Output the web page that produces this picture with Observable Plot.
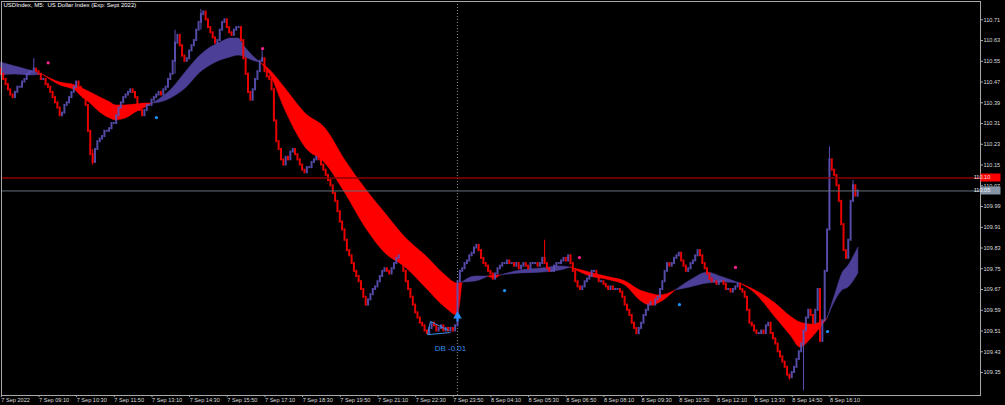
<!DOCTYPE html>
<html><head><meta charset="utf-8">
<script src="https://cdn.jsdelivr.net/npm/d3@7"></script>
<script src="https://cdn.jsdelivr.net/npm/@observablehq/plot@0.6"></script>
<style>
html,body{margin:0;padding:0;background:#000;}
#chart{width:1005px;height:405px;overflow:hidden;}
</style></head><body><div id="chart"></div>
<script>
const chartTitle = "USDIndex, M5:  US Dollar Index (Exp: Sept 2022)";

// M5 closes, one per bar (bar index 0 = 7 Sep 07:50)
const firstOpen = 110.52;
const closes = [
110.50,110.48,110.46,110.44,110.42,110.41,110.43,110.45,110.45,110.47,110.48,110.50,110.51,110.51,110.52,110.51,110.50,110.48,110.48,110.46,110.45,110.43,
110.41,110.39,110.37,110.34,110.35,110.38,110.39,110.41,110.43,110.45,110.47,110.45,110.43,110.41,110.38,110.28,110.19,110.16,110.21,110.24,110.25,
110.26,110.28,110.28,110.29,110.31,110.31,110.34,110.37,110.39,110.41,110.42,110.43,110.44,110.43,110.41,110.38,110.36,110.34,110.36,110.38,110.38,
110.40,110.41,110.42,110.43,110.42,110.44,110.45,110.48,110.50,110.55,110.62,110.65,110.61,110.57,110.55,110.56,110.59,110.61,110.63,110.67,110.70,110.73,
110.74,110.71,110.68,110.66,110.64,110.62,110.63,110.67,110.70,110.71,110.68,110.66,110.65,110.67,110.68,110.68,110.63,110.56,110.50,110.43,110.40,
110.44,110.48,110.51,110.55,110.56,110.51,110.49,110.48,110.44,110.32,110.24,110.21,110.17,110.15,110.18,110.17,110.20,110.21,110.19,110.17,110.15,
110.13,110.12,110.14,110.14,110.16,110.17,110.18,110.17,110.15,110.13,110.11,110.09,110.07,110.04,110.01,109.97,109.93,109.90,109.86,109.82,109.80,
109.77,109.74,109.72,109.70,109.67,109.64,109.61,109.63,109.65,109.67,109.68,109.70,109.72,109.74,109.75,109.74,109.73,109.75,109.77,109.79,109.80,109.77,
109.74,109.70,109.67,109.64,109.61,109.58,109.56,109.54,109.53,109.51,109.50,109.52,109.54,109.53,109.51,109.52,109.53,109.51,109.52,109.51,109.52,109.51,109.53,
109.70,109.74,109.75,109.77,109.78,109.80,109.81,109.83,109.84,109.82,109.79,109.77,109.76,109.74,109.73,109.71,109.73,109.75,109.76,
109.77,109.77,109.78,109.77,109.77,109.76,109.77,109.75,109.76,109.77,109.76,109.75,109.77,109.77,109.77,109.76,109.77,109.79,109.77,109.75,109.74,
109.74,109.76,109.77,109.77,109.78,109.79,109.78,109.80,109.77,109.74,109.70,109.68,109.67,109.68,109.70,109.71,109.72,109.74,109.74,109.72,109.70,
109.70,109.69,109.68,109.67,109.68,109.67,109.67,109.67,109.66,109.64,109.61,109.59,109.57,109.54,109.52,109.50,109.52,109.54,109.57,109.59,109.61,109.62,
109.61,109.63,109.64,109.67,109.70,109.74,109.77,109.76,109.77,109.79,109.80,109.81,109.78,109.76,109.74,109.75,109.77,109.78,109.80,109.82,109.80,
109.77,109.75,109.73,109.71,109.70,109.70,109.69,109.70,109.70,109.69,109.67,109.67,109.66,109.67,109.68,109.69,109.67,109.66,109.64,109.59,109.54,
109.53,109.51,109.50,109.50,109.51,109.50,109.53,109.54,109.50,109.48,109.46,109.43,109.41,109.39,109.37,109.34,109.33,109.35,109.37,109.40,109.43,109.46,
109.51,109.56,109.59,109.57,109.54,109.59,109.67,109.47,109.55,109.74,109.90,110.17,110.13,110.11,110.07,110.01,109.92,109.82,109.79,109.86,110.01,110.07,110.03,110.05
];

// long wicks (bar index, high, low)
const wickIdx = [14, 39, 74, 85, 111, 231, 335, 341, 352, 362];
const wickHi  = [110.56, 110.21, 110.67, 110.75, 110.59, 109.86, 109.34, 109.51, 110.22, 110.09];
const wickLo  = [110.51, 110.15, 110.50, 110.67, 110.55, 109.77, 109.32, 109.28, 109.90, 110.01];

// ribbon (fast / slow average), one list per coloured stretch
const ribbonIdx = [
 [0, 6.2, 12.6, 17.7],
 [17.7, 25.3, 31.7, 33.8, 38.1, 42.3, 46.6, 48.7, 52.96, 57.2, 61.5, 64.4],
 [64.4, 67.8, 72.1, 78.5, 84.8, 89.1, 93.3, 97.6, 101.0, 103.9, 106.9, 110.3],
 [110.3, 114.6, 120.9, 129.4, 137.9, 146.4, 154.9, 163.4, 171.9, 180.4, 188.9, 194.0, 196.1],
 [196.1, 201.6, 207.2],
 [207.2, 209.7, 212.3],
 [212.3, 220.8, 229.3, 237.8, 242.0],
 [242.0, 250.5, 259.0, 265.4, 271.7, 276.0, 280.2, 286.6],
 [286.6, 293.0, 300.2, 307.0, 314.2],
 [314.2, 320.6, 329.1, 335.5, 339.7, 344.8, 351.2],
 [351.2, 354.6, 357.5, 360.1, 364.3]
];
const ribbonFast = [
 [110.545, 110.530, 110.514, 110.499],
 [110.499, 110.457, 110.437, 110.418, 110.387, 110.352, 110.329, 110.322, 110.329, 110.352, 110.372, 110.387],
 [110.387, 110.406, 110.437, 110.507, 110.572, 110.603, 110.622, 110.638, 110.638, 110.603, 110.572, 110.545],
 [110.545, 110.495, 110.360, 110.218, 110.156, 110.040, 109.909, 109.809, 109.755, 109.678, 109.600, 109.570, 109.697],
 [109.697, 109.720, 109.720],
 [109.720, 109.712, 109.724],
 [109.724, 109.743, 109.751, 109.759, 109.755],
 [109.755, 109.720, 109.705, 109.685, 109.627, 109.608, 109.620, 109.666],
 [109.666, 109.705, 109.735, 109.716, 109.693],
 [109.693, 109.654, 109.562, 109.493, 109.446, 109.485, 109.558],
 [109.558, 109.654, 109.732, 109.762, 109.832]
];
const ribbonSlow = [
 [110.495, 110.499, 110.495, 110.499],
 [110.499, 110.468, 110.457, 110.449, 110.430, 110.410, 110.391, 110.380, 110.380, 110.383, 110.387, 110.387],
 [110.387, 110.391, 110.406, 110.445, 110.507, 110.534, 110.553, 110.565, 110.572, 110.565, 110.553, 110.545],
 [110.545, 110.514, 110.445, 110.349, 110.291, 110.167, 110.059, 109.963, 109.870, 109.801, 109.724, 109.693, 109.697],
 [109.697, 109.701, 109.720],
 [109.720, 109.724, 109.724],
 [109.724, 109.732, 109.735, 109.743, 109.755],
 [109.755, 109.735, 109.716, 109.701, 109.666, 109.654, 109.647, 109.666],
 [109.666, 109.678, 109.693, 109.697, 109.693],
 [109.693, 109.666, 109.616, 109.566, 109.543, 109.535, 109.558],
 [109.558, 109.627, 109.666, 109.678, 109.732]
];
const ribbonBull = [true, false, true, false, true, false, true, false, true, false, true];

// signal dots
const pinkIdx = [20.1, 111.2, 245.8, 312.1];
const pinkPrice = [110.544, 110.599, 109.793, 109.755];
const blueIdx = [66.1, 214, 288.3, 351.2];
const bluePrice = [110.333, 109.666, 109.612, 109.508];

// double-bottom annotation
const dbIdx1 = [181.3, 181.3, 182.5];
const dbP1   = [109.496, 109.496, 109.547];
const dbIdx2 = [191.0, 182.5, 190.2];
const dbP2   = [109.504, 109.547, 109.512];
const dbLabel = "DB -0.01";
const dbLabelIdx = 191, dbLabelPrice = 109.442;
const arrowIdx = 194, arrowPrice = 109.568, arrowBase = 109.545;
const cursorIdx = 194;

// level lines
const redLevel = 110.10;
const bidLevel = 110.05;

// axes
const yTicks = [110.71,110.63,110.55,110.47,110.39,110.31,110.23,110.15,110.07,109.99,109.91,109.83,109.75,109.67,109.59,109.51,109.43,109.35];
const xTickIdx = [0,16,32,48,64,80,96,112,128,144,160,176,192,208,224,240,256,272,288,304,320,336,352];
const xTickLabels = ["7 Sep 2022","7 Sep 09:10","7 Sep 10:30","7 Sep 11:50","7 Sep 13:10","7 Sep 14:30","7 Sep 15:50","7 Sep 17:10","7 Sep 18:30","7 Sep 19:50","7 Sep 21:10","7 Sep 22:30","7 Sep 23:50","8 Sep 04:10","8 Sep 05:30","8 Sep 06:50","8 Sep 08:10","8 Sep 09:30","8 Sep 10:50","8 Sep 12:10","8 Sep 13:30","8 Sep 14:50","8 Sep 16:10"];
const yDomain = [109.2613, 110.7806];
const xDomain = [0.285, 416.18];

// ---- build tables ----
const UP = "#5a50b4", DOWN = "#ff0000", RIB_BULL = "#4c3f98", RIB_BEAR = "#ff0000";
const bars = closes.map((c, i) => {
  const o = i ? closes[i - 1] : firstOpen;
  return {i, open: o, close: c, color: c >= o ? UP : DOWN};
});
const wicks = wickIdx.map((i, k) => ({i, hi: wickHi[k], lo: wickLo[k], color: bars[i].color}));
const ribbon = [];
ribbonIdx.forEach((xs, s) => xs.forEach((x, k) => ribbon.push({
  i: x, fast: ribbonFast[s][k], slow: ribbonSlow[s][k], seg: s,
  color: ribbonBull[s] ? RIB_BULL : RIB_BEAR
})));
const pinks = pinkIdx.map((i, k) => ({i, p: pinkPrice[k]}));
const blues = blueIdx.map((i, k) => ({i, p: bluePrice[k]}));
const dbLines = dbIdx1.map((i, k) => ({x1: i, y1: dbP1[k], x2: dbIdx2[k], y2: dbP2[k]}));
const labelOf = new Map(xTickIdx.map((d, k) => [d, xTickLabels[k]]));

const FONT = "'Liberation Sans', Arial, sans-serif";
const chart = Plot.plot({
  width: 1005, height: 405,
  marginLeft: 1, marginRight: 25, marginTop: 1, marginBottom: 10,
  style: {background: "#000", color: "#d8d8d8", fontFamily: FONT, fontSize: "6px"},
  x: {domain: xDomain},
  y: {domain: yDomain},
  color: {type: "identity"},
  marks: [
    Plot.ruleX([cursorIdx], {stroke: "#8a8a8a", strokeDasharray: "1,2", strokeWidth: 1}),
    Plot.areaY(ribbon, {x: "i", y1: "fast", y2: "slow", z: "seg", fill: "color", stroke: "color", strokeWidth: 0.5, curve: "monotone-x"}),
    Plot.ruleX(wicks, {x: "i", y1: "lo", y2: "hi", stroke: "color", strokeWidth: 1}),
    Plot.ruleX(bars, {x: "i", y1: "open", y2: "close", stroke: "color", strokeWidth: 2, strokeLinecap: "square", strokeOpacity: 0.92}),
    Plot.ruleY([redLevel], {stroke: "#8b0000", strokeWidth: 1.5}),
    Plot.ruleY([bidLevel], {stroke: "#66717c", strokeWidth: 1}),
    Plot.dot(pinks, {x: "i", y: "p", r: 1.6, fill: "#ff2090", stroke: null}),
    Plot.dot(blues, {x: "i", y: "p", r: 1.6, fill: "#1e90ff", stroke: null}),
    Plot.link(dbLines, {x1: "x1", y1: "y1", x2: "x2", y2: "y2", stroke: "#3a8ee8", strokeWidth: 1}),
    Plot.ruleX([{i: arrowIdx, a: arrowBase, b: arrowPrice}], {x: "i", y1: "a", y2: "b", stroke: "#2a8cff", strokeWidth: 2}),
    Plot.dot([{i: arrowIdx, p: arrowPrice}], {x: "i", y: "p", symbol: "triangle", r: 3.2, fill: "#2a8cff", stroke: null}),
    Plot.text([dbLabel], {x: () => dbLabelIdx, y: () => dbLabelPrice, text: d => d, fill: "#3a8ee8", fontSize: 8}),
    Plot.text([chartTitle], {frameAnchor: "top-left", dx: 2, dy: 1, lineAnchor: "top", textAnchor: "start", text: d => d, fill: "#ffffff", fontSize: 6}),
    Plot.frame({stroke: "#a8a8a8"}),
    Plot.axisY(yTicks, {anchor: "right", tickSize: 2, tickPadding: 1, fontSize: 5.6, tickFormat: d => d.toFixed(2), label: null, stroke: "#a8a8a8", fill: "#dcdcdc"}),
    Plot.axisX(xTickIdx, {anchor: "bottom", tickSize: 2, tickPadding: 1, textAnchor: "start", dx: 0.5, fontSize: 5.6, tickFormat: d => labelOf.get(d), label: null, stroke: "#a8a8a8", fill: "#dcdcdc"})
  ]
});
document.getElementById("chart").appendChild(chart);

// price boxes on the right axis, positioned with the plot's own y scale
const ys = chart.scale("y");
const boxes = [
  {p: redLevel, bg: "#ff0000", fg: "#ffe0e0"},
  {p: bidLevel, bg: "#8796a6", fg: "#eef2f6"}
];
const g = d3.select(chart).append("g");
boxes.forEach(b => {
  const yy = ys.apply(b.p);
  g.append("rect").attr("x", 980.5).attr("y", yy - 4).attr("width", 20).attr("height", 8).attr("fill", b.bg);
  g.append("text").attr("x", 982).attr("y", yy).attr("dy", "0.35em").attr("fill", b.fg)
    .attr("font-size", 5.6).attr("font-family", FONT).text(b.p.toFixed(2));
});
</script></body></html>
